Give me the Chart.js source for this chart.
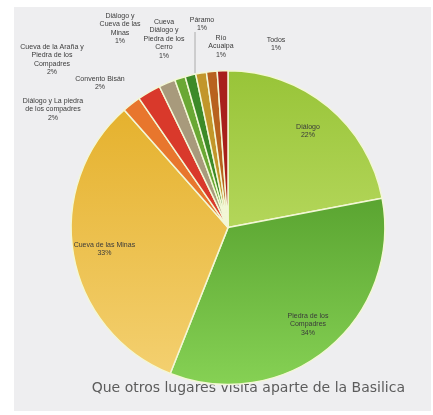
<!DOCTYPE html>
<html>
<head>
<meta charset="utf-8">
<script src="https://cdn.jsdelivr.net/npm/chart.js@4.4.1/dist/chart.umd.min.js"></script>
<style>
  html, body { margin: 0; padding: 0; background: #fff; }
  #wrap { width: 433px; height: 415px; }
</style>
</head>
<body>
<div id="wrap"><canvas id="pie" width="433" height="415"></canvas></div>
<script>
// data
const labels = [
    ["Diálogo"],
    ["Piedra de los", "Compadres"],
    ["Cueva de las Minas"],
    ["Diálogo y La piedra", "de los compadres"],
    ["Cueva de la Araña y", "Piedra de los", "Compadres"],
    ["Convento Bisán"],
    ["Diálogo y", "Cueva de las", "Minas"],
    ["Cueva", "Diálogo y", "Piedra de los", "Cerro"],
    ["Páramo"],
    ["Río", "Acuaipa"],
    ["Todos"]
];
const values = [22.0, 34.0, 32.5, 1.9, 2.4, 1.7, 1.1, 1.1, 1.1, 1.1, 1.1];

// top / bottom colour of each slice (vertical shading)
const topColors = ["#98c438", "#3c8619", "#e3ad24", "#e8762d", "#d9392b", "#a89a7c", "#6aa834", "#3d8a28", "#c2962a", "#b8621e", "#a8201c"];
const bottomColors = ["#cfe87c", "#86d154", "#f4d172", "#e8762d", "#d9392b", "#a89a7c", "#6aa834", "#3d8a28", "#c2962a", "#b8621e", "#a8201c"];

// where the small-slice labels sit (text centre, first line)
const outsideLabelPos = {
    3: [53, 101],
    4: [52, 47],
    5: [100, 79],
    6: [120, 16],
    7: [164, 22],
    8: [202, 20],
    9: [221, 38],
    10: [276, 40]
};

const total = values.reduce((a, b) => a + b, 0);

const shading = (ctx) => {
    const area = ctx.chart.chartArea;
    if (!area) return topColors[ctx.dataIndex];
    const g = ctx.chart.ctx.createLinearGradient(0, area.top, 0, area.bottom);
    g.addColorStop(0, topColors[ctx.dataIndex]);
    g.addColorStop(1, bottomColors[ctx.dataIndex]);
    return g;
};

const backdrop = {
    id: "backdrop",
    beforeDraw(chart) {
        const c = chart.ctx;
        c.save();
        c.fillStyle = "#ffffff";
        c.fillRect(0, 0, chart.width, chart.height);
        c.fillStyle = "#eeeef0";
        c.fillRect(14, 7, 417, 404);
        c.restore();
    }
};

const sliceLabels = {
    id: "sliceLabels",
    afterDatasetsDraw(chart) {
        const c = chart.ctx;
        const meta = chart.getDatasetMeta(0);
        c.save();
        c.fillStyle = "#3a3a3a";
        c.font = "7px 'Liberation Sans'";
        c.textAlign = "center";
        c.textBaseline = "middle";
        const lh = 8.5;
        meta.data.forEach((arc, i) => {
            const pct = Math.round(values[i] / total * 100) + "%";
            const lines = labels[i].concat([pct]);
            if (outsideLabelPos[i]) {
                const [x, y] = outsideLabelPos[i];
                lines.forEach((t, k) => c.fillText(t, x, y + k * lh));
            } else {
                const mid = (arc.startAngle + arc.endAngle) / 2;
                const r = arc.outerRadius * 0.8;
                const x = arc.x + Math.cos(mid) * r;
                const y = arc.y + Math.sin(mid) * r - (lines.length - 1) * lh / 2;
                lines.forEach((t, k) => c.fillText(t, x, y + k * lh));
            }
        });
        // leader line for Páramo
        const p = meta.data[8];
        const pm = (p.startAngle + p.endAngle) / 2;
        const px = outsideLabelPos[8][0] - 7;
        c.strokeStyle = "#9a9a9a";
        c.lineWidth = 0.8;
        c.beginPath();
        c.moveTo(px, outsideLabelPos[8][1] + 12);
        c.lineTo(px, p.y + Math.sin(pm) * p.outerRadius);
        c.stroke();
        c.restore();
    }
};

new Chart(document.getElementById("pie"), {
    type: "pie",
    data: {
        labels: labels,
        datasets: [{
            data: values,
            backgroundColor: shading,
            borderColor: "#f3f7d6",
            borderWidth: 1.5
        }]
    },
    options: {
        responsive: false,
        animation: false,
        layout: { padding: { top: 70, left: 51, right: 28, bottom: 0 } },
        plugins: {
            legend: { display: false },
            tooltip: { enabled: false },
            title: {
                display: true,
                position: "bottom",
                align: "end",
                text: "Que otros lugares visita aparte de la Basilica",
                color: "#5c5c5c",
                font: { family: "DejaVu Sans", size: 14, weight: "normal" },
                padding: { top: -5, bottom: 18 }
            }
        }
    },
    plugins: [backdrop, sliceLabels]
});
</script>
</body>
</html>
